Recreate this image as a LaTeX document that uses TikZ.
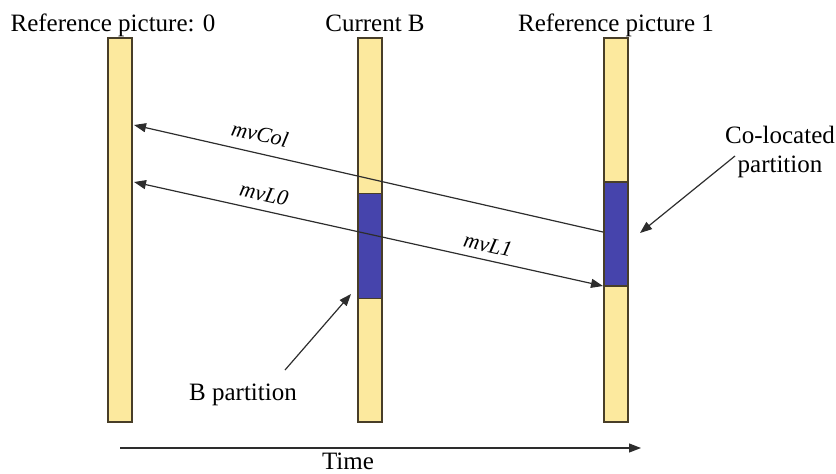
\documentclass[tikz,border=0pt]{standalone}
\usepackage{fontspec}
\setmainfont{Liberation Serif}
\usetikzlibrary{arrows.meta}
\definecolor{baryel}{RGB}{252,233,158}
\definecolor{partblue}{RGB}{70,68,172}
\definecolor{barline}{RGB}{72,62,40}
\definecolor{arrowgray}{RGB}{45,45,45}
\tikzset{
  bar/.style={draw=barline, line width=1.4pt, fill=baryel, minimum width=24pt, inner sep=0pt, outer sep=0pt},
  part/.style={draw=barline, line width=1.4pt, fill=partblue, minimum width=24pt, inner sep=0pt, outer sep=0pt},
  head/.style={font=\fontsize{25}{28}\selectfont, anchor=base, inner sep=0pt},
  mvlab/.style={font=\fontsize{22}{24}\selectfont\itshape, rotate=-12.7, inner sep=0pt},
  mv/.style={draw=arrowgray, line width=1.2pt},
  tip/.style={-{Triangle[length=12pt,width=9pt]}},
}
\begin{document}
\begin{tikzpicture}[x=1pt,y=-1pt]
\useasboundingbox (0,0) rectangle (836,474);
% bars
\node[bar, minimum height=384pt] (bar0) at (120,230) {};
\node[bar, minimum height=384pt] (barB) at (370,230) {};
\node[bar, minimum height=384pt] (bar1) at (616,230) {};
\node[part, minimum height=105pt] (partB) at (370,246) {};
\node[part, minimum height=104pt] (part1) at (616,234) {};
% headers
\node[head] (h0) at (113,31) {Reference picture: 0};
\node[head] (hB) at (375,31) {Current B};
\node[head] (h1) at (616,31) {Reference picture 1};
% motion vectors
\coordinate (colS) at (603,232);
\coordinate (colE) at (134,125);
\coordinate (l0E) at (134,182);
\coordinate (l1E) at (603,286);
\draw[mv, tip] (colS) -- (colE);
\draw[mv, {Triangle[length=12pt,width=9pt]}-{Triangle[length=12pt,width=9pt]}] (l0E) -- (l1E);
\node[mvlab] (lcol) at (260,134) {mvCol};
\node[mvlab] (ll0) at (264,194) {mvL0};
\node[mvlab] (ll1) at (488,245) {mvL1};
% Co-located partition label
\node[font=\fontsize{25}{29}\selectfont, align=center, inner sep=0pt] (colab) at (780,152) {Co-located\\partition};
\coordinate (colA) at (735,156);
\coordinate (colT) at (640,233);
\draw[mv, tip] (colA) -- (colT);
% B partition label
\node[head] (blab) at (243,400) {B partition};
\coordinate (bA) at (285,370);
\coordinate (bT) at (351,294);
\draw[mv, tip] (bA) -- (bT);
% time axis
\coordinate (tS) at (120,448);
\coordinate (tE) at (641,448);
\draw[mv, tip] (tS) -- (tE);
\node[head] (tlab) at (348,469) {Time};
\end{tikzpicture}
\end{document}
